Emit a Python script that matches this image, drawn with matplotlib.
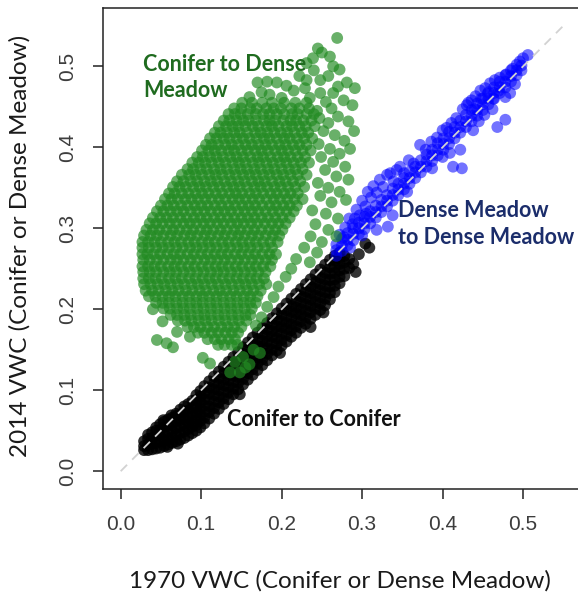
import matplotlib
matplotlib.use("Agg")
import matplotlib.pyplot as plt

# ---------------- data ----------------
TICKS = [0.0, 0.1, 0.2, 0.3, 0.4, 0.5]
TICK_LABELS = ["0.0", "0.1", "0.2", "0.3", "0.4", "0.5"]
ONE_TO_ONE = [0.0, 0.55]

# Conifer -> Conifer: dense band (x of 1970, list of 2014 values)
CONIFER_COLS = [
    (0.029, [0.026, 0.031, 0.037]),
    (0.034, [0.026, 0.033, 0.040, 0.045]),
    (0.039, [0.027, 0.034, 0.041, 0.048]),
    (0.044, [0.028, 0.035, 0.043, 0.050, 0.054]),
    (0.049, [0.029, 0.037, 0.044, 0.051, 0.058]),
    (0.054, [0.031, 0.038, 0.046, 0.054, 0.061]),
    (0.059, [0.033, 0.040, 0.048, 0.056, 0.064]),
    (0.064, [0.035, 0.042, 0.050, 0.058, 0.066]),
    (0.069, [0.037, 0.045, 0.053, 0.061, 0.068, 0.071]),
    (0.074, [0.039, 0.047, 0.055, 0.063, 0.070, 0.076]),
    (0.079, [0.041, 0.049, 0.057, 0.065, 0.073, 0.080]),
    (0.084, [0.044, 0.052, 0.060, 0.067, 0.075, 0.083]),
    (0.089, [0.047, 0.055, 0.062, 0.070, 0.078, 0.087]),
    (0.094, [0.050, 0.057, 0.065, 0.073, 0.080, 0.088, 0.094]),
    (0.099, [0.054, 0.062, 0.069, 0.077, 0.085, 0.092, 0.099]),
    (0.104, [0.059, 0.066, 0.074, 0.081, 0.089, 0.097, 0.105]),
    (0.110, [0.065, 0.073, 0.080, 0.088, 0.096, 0.103, 0.111]),
    (0.116, [0.071, 0.078, 0.086, 0.094, 0.101, 0.109, 0.117]),
    (0.122, [0.077, 0.085, 0.092, 0.100, 0.107, 0.115, 0.123]),
    (0.128, [0.083, 0.090, 0.098, 0.106, 0.113, 0.121, 0.129]),
    (0.134, [0.089, 0.097, 0.104, 0.112, 0.119, 0.127, 0.135]),
    (0.140, [0.095, 0.102, 0.110, 0.118, 0.125, 0.133, 0.141]),
    (0.146, [0.101, 0.109, 0.116, 0.124, 0.131, 0.139, 0.147]),
    (0.152, [0.107, 0.114, 0.122, 0.130, 0.137, 0.145, 0.153]),
    (0.158, [0.113, 0.121, 0.128, 0.136, 0.143, 0.151, 0.159]),
    (0.164, [0.119, 0.126, 0.134, 0.142, 0.149, 0.157, 0.165]),
    (0.170, [0.125, 0.133, 0.140, 0.148, 0.155, 0.163, 0.171]),
    (0.176, [0.131, 0.138, 0.146, 0.154, 0.161, 0.169, 0.177]),
    (0.182, [0.137, 0.145, 0.152, 0.160, 0.167, 0.175, 0.183]),
    (0.188, [0.143, 0.150, 0.158, 0.166, 0.173, 0.181, 0.189]),
    (0.194, [0.149, 0.157, 0.164, 0.172, 0.179, 0.187, 0.195]),
    (0.200, [0.155, 0.162, 0.170, 0.178, 0.185, 0.193, 0.201]),
    (0.206, [0.160, 0.168, 0.176, 0.183, 0.191, 0.199, 0.207]),
    (0.212, [0.166, 0.174, 0.181, 0.189, 0.197, 0.204, 0.213]),
    (0.218, [0.171, 0.179, 0.187, 0.195, 0.202, 0.210, 0.219]),
    (0.224, [0.177, 0.185, 0.193, 0.200, 0.208, 0.216, 0.225]),
    (0.230, [0.182, 0.190, 0.198, 0.206, 0.214, 0.222, 0.231]),
    (0.236, [0.188, 0.196, 0.204, 0.212, 0.220, 0.228, 0.237]),
    (0.242, [0.193, 0.201, 0.209, 0.217, 0.225, 0.233, 0.243]),
    (0.248, [0.199, 0.207, 0.215, 0.223, 0.231, 0.239, 0.249]),
    (0.254, [0.205, 0.213, 0.221, 0.229, 0.237, 0.245, 0.255]),
    (0.260, [0.212, 0.220, 0.228, 0.236, 0.244, 0.252, 0.261]),
    (0.266, [0.221, 0.229, 0.237, 0.245, 0.252, 0.260, 0.266]),
    (0.272, [0.232, 0.240, 0.248, 0.256, 0.263, 0.270]),
    (0.278, [0.241, 0.250, 0.258, 0.266]),
    (0.284, [0.251, 0.262]),
]
CONIFER_EXTRA = [(0.289, 0.256), (0.296, 0.268), (0.304, 0.281), (0.309, 0.276),
                 (0.292, 0.246), (0.236, 0.178), (0.252, 0.196), (0.198, 0.146),
                 (0.148, 0.095), (0.063, 0.069), (0.053, 0.063), (0.058, 0.030),
                 (0.071, 0.034)]

# Dense Meadow -> Dense Meadow: core band along 1:1 plus scatter
MEADOW_COLS = [
    (0.268, [0.266, 0.273, 0.280]), (0.275, [0.272, 0.279, 0.287]),
    (0.282, [0.279, 0.286, 0.294]), (0.289, [0.285, 0.293, 0.300]),
    (0.296, [0.293, 0.300, 0.307]), (0.303, [0.299, 0.306, 0.314]),
    (0.310, [0.306, 0.314, 0.321]), (0.317, [0.313, 0.320, 0.328]),
    (0.324, [0.320, 0.327, 0.335]), (0.331, [0.327, 0.334, 0.341]),
    (0.338, [0.334, 0.341, 0.349]), (0.345, [0.341, 0.348, 0.355]),
    (0.352, [0.348, 0.355, 0.362]), (0.359, [0.355, 0.362, 0.370]),
    (0.366, [0.362, 0.369, 0.376]), (0.373, [0.369, 0.376, 0.384]),
    (0.380, [0.376, 0.383, 0.391]), (0.387, [0.383, 0.390, 0.397]),
    (0.394, [0.390, 0.397, 0.405]), (0.401, [0.397, 0.404, 0.411]),
    (0.408, [0.404, 0.411, 0.419]), (0.415, [0.411, 0.418, 0.425]),
    (0.422, [0.418, 0.425, 0.433]), (0.429, [0.425, 0.432, 0.440]),
    (0.436, [0.432, 0.439, 0.446]), (0.443, [0.439, 0.446, 0.454]),
    (0.450, [0.446, 0.453, 0.460]), (0.457, [0.453, 0.460, 0.468]),
    (0.464, [0.460, 0.467, 0.474]), (0.471, [0.467, 0.474, 0.481]),
    (0.478, [0.474, 0.481, 0.489]), (0.485, [0.481, 0.488, 0.495]),
    (0.492, [0.489, 0.495, 0.502]), (0.498, [0.495, 0.501]),
]
MEADOW_EXTRA = [
    (0.272, 0.292), (0.279, 0.301), (0.284, 0.312), (0.288, 0.305), (0.293, 0.323),
    (0.297, 0.316), (0.300, 0.334), (0.304, 0.327), (0.307, 0.345), (0.311, 0.338),
    (0.314, 0.352), (0.318, 0.344), (0.322, 0.360), (0.326, 0.351), (0.331, 0.366),
    (0.335, 0.368), (0.339, 0.358), (0.343, 0.372), (0.347, 0.376), (0.352, 0.368),
    (0.358, 0.384), (0.364, 0.380), (0.372, 0.403), (0.379, 0.397), (0.386, 0.407),
    (0.393, 0.412), (0.400, 0.421), (0.405, 0.424), (0.411, 0.430), (0.417, 0.436),
    (0.425, 0.447), (0.430, 0.452), (0.436, 0.458), (0.441, 0.463), (0.447, 0.470),
    (0.453, 0.473), (0.459, 0.479), (0.465, 0.483), (0.471, 0.486), (0.479, 0.490),
    (0.487, 0.497), (0.496, 0.506), (0.506, 0.514), (0.500, 0.510),
    (0.318, 0.298), (0.332, 0.302), (0.338, 0.316), (0.356, 0.345), (0.387, 0.374),
    (0.400, 0.388), (0.409, 0.393), (0.413, 0.376), (0.424, 0.374), (0.422, 0.397),
    (0.438, 0.421), (0.445, 0.432), (0.452, 0.440), (0.462, 0.447), (0.468, 0.425),
    (0.478, 0.434), (0.484, 0.467), (0.478, 0.462), (0.490, 0.478), (0.432, 0.455),
    (0.440, 0.447), (0.448, 0.460), (0.456, 0.466), (0.463, 0.460), (0.470, 0.470),
    (0.285, 0.276), (0.300, 0.291), (0.277, 0.289), (0.291, 0.312), (0.305, 0.318),
]

# Conifer -> Dense Meadow: cloud (2014 value, list of 1970 values)
CONV_ROWS = [
    (0.455, [0.151, 0.163, 0.176, 0.188, 0.203, 0.217, 0.231]),
    (0.448, [0.141, 0.150, 0.161, 0.169, 0.181, 0.190, 0.199, 0.212, 0.222, 0.234]),
    (0.441, [0.134, 0.142, 0.149, 0.158, 0.168, 0.177, 0.185, 0.194, 0.203, 0.213, 0.220, 0.231, 0.240]),
    (0.433, [0.128, 0.135, 0.144, 0.152, 0.159, 0.168, 0.178, 0.185, 0.192, 0.202, 0.211, 0.218, 0.227, 0.237]),
    (0.426, [0.122, 0.131, 0.139, 0.146, 0.155, 0.164, 0.171, 0.181, 0.188, 0.196, 0.206, 0.213, 0.222, 0.230, 0.241]),
    (0.418, [0.117, 0.124, 0.132, 0.141, 0.148, 0.157, 0.167, 0.174, 0.182, 0.191, 0.199, 0.207, 0.216, 0.225, 0.233]),
    (0.411, [0.111, 0.119, 0.128, 0.135, 0.144, 0.152, 0.160, 0.169, 0.178, 0.185, 0.194, 0.203, 0.210, 0.219, 0.228, 0.238]),
    (0.403, [0.106, 0.113, 0.121, 0.130, 0.138, 0.146, 0.155, 0.163, 0.171, 0.180, 0.188, 0.197, 0.205, 0.214, 0.222, 0.231]),
    (0.396, [0.101, 0.109, 0.117, 0.125, 0.134, 0.141, 0.150, 0.158, 0.167, 0.175, 0.183, 0.192, 0.200, 0.208, 0.217, 0.226, 0.236]),
    (0.388, [0.095, 0.102, 0.111, 0.119, 0.127, 0.136, 0.144, 0.152, 0.161, 0.170, 0.177, 0.186, 0.195, 0.203, 0.211, 0.220, 0.229]),
    (0.381, [0.089, 0.097, 0.105, 0.113, 0.122, 0.130, 0.139, 0.147, 0.155, 0.164, 0.172, 0.181, 0.189, 0.198, 0.206, 0.215, 0.224, 0.234]),
    (0.373, [0.083, 0.090, 0.099, 0.107, 0.116, 0.124, 0.132, 0.141, 0.149, 0.157, 0.166, 0.174, 0.183, 0.191, 0.200, 0.209, 0.217, 0.226]),
    (0.366, [0.076, 0.085, 0.093, 0.101, 0.110, 0.118, 0.126, 0.135, 0.143, 0.152, 0.160, 0.168, 0.177, 0.185, 0.194, 0.202, 0.211, 0.220, 0.231]),
    (0.358, [0.070, 0.078, 0.087, 0.095, 0.104, 0.112, 0.120, 0.129, 0.137, 0.146, 0.154, 0.163, 0.171, 0.179, 0.188, 0.197, 0.205, 0.214, 0.223]),
    (0.351, [0.065, 0.073, 0.081, 0.090, 0.098, 0.106, 0.115, 0.123, 0.132, 0.140, 0.148, 0.157, 0.166, 0.174, 0.182, 0.191, 0.199, 0.208, 0.217, 0.228]),
    (0.343, [0.060, 0.067, 0.076, 0.084, 0.093, 0.101, 0.109, 0.118, 0.126, 0.135, 0.143, 0.151, 0.160, 0.168, 0.177, 0.186, 0.194, 0.203, 0.211, 0.220]),
    (0.336, [0.055, 0.063, 0.071, 0.080, 0.088, 0.096, 0.105, 0.113, 0.122, 0.130, 0.139, 0.147, 0.155, 0.164, 0.172, 0.181, 0.190, 0.198, 0.207, 0.216, 0.226]),
    (0.328, [0.050, 0.058, 0.066, 0.075, 0.083, 0.092, 0.100, 0.108, 0.117, 0.125, 0.134, 0.142, 0.151, 0.159, 0.167, 0.176, 0.185, 0.193, 0.202, 0.210, 0.219]),
    (0.321, [0.045, 0.053, 0.062, 0.070, 0.078, 0.087, 0.095, 0.104, 0.112, 0.121, 0.129, 0.137, 0.146, 0.154, 0.163, 0.171, 0.180, 0.189, 0.197, 0.206, 0.215]),
    (0.313, [0.040, 0.049, 0.057, 0.065, 0.074, 0.082, 0.091, 0.099, 0.107, 0.116, 0.124, 0.133, 0.141, 0.150, 0.158, 0.166, 0.175, 0.183, 0.192, 0.201, 0.210]),
    (0.306, [0.036, 0.044, 0.052, 0.061, 0.069, 0.078, 0.086, 0.094, 0.103, 0.111, 0.120, 0.128, 0.137, 0.145, 0.153, 0.162, 0.170, 0.179, 0.188, 0.196, 0.205]),
    (0.298, [0.032, 0.040, 0.048, 0.057, 0.065, 0.073, 0.082, 0.090, 0.099, 0.107, 0.115, 0.124, 0.132, 0.141, 0.149, 0.158, 0.166, 0.175, 0.184, 0.192, 0.201]),
    (0.291, [0.029, 0.037, 0.045, 0.053, 0.062, 0.070, 0.079, 0.087, 0.095, 0.104, 0.112, 0.121, 0.129, 0.138, 0.146, 0.154, 0.163, 0.171, 0.180, 0.189, 0.197]),
    (0.283, [0.027, 0.034, 0.042, 0.050, 0.059, 0.067, 0.075, 0.084, 0.092, 0.101, 0.109, 0.117, 0.126, 0.134, 0.143, 0.151, 0.160, 0.168, 0.177, 0.186, 0.195]),
    (0.276, [0.027, 0.035, 0.044, 0.052, 0.060, 0.069, 0.077, 0.086, 0.094, 0.102, 0.111, 0.119, 0.128, 0.136, 0.145, 0.153, 0.161, 0.170, 0.179, 0.188]),
    (0.268, [0.027, 0.033, 0.041, 0.049, 0.058, 0.066, 0.074, 0.083, 0.091, 0.100, 0.108, 0.117, 0.125, 0.133, 0.142, 0.150, 0.159, 0.167, 0.176, 0.185, 0.193]),
    (0.261, [0.028, 0.036, 0.045, 0.053, 0.062, 0.070, 0.078, 0.087, 0.095, 0.104, 0.112, 0.120, 0.129, 0.137, 0.146, 0.154, 0.163, 0.171, 0.180, 0.188]),
    (0.253, [0.027, 0.034, 0.042, 0.050, 0.059, 0.067, 0.075, 0.084, 0.092, 0.101, 0.109, 0.118, 0.126, 0.134, 0.143, 0.151, 0.160, 0.168, 0.177, 0.186]),
    (0.246, [0.028, 0.036, 0.044, 0.053, 0.061, 0.069, 0.078, 0.086, 0.095, 0.103, 0.112, 0.120, 0.128, 0.137, 0.145, 0.154, 0.162, 0.171, 0.180]),
    (0.238, [0.028, 0.035, 0.043, 0.051, 0.060, 0.068, 0.076, 0.085, 0.093, 0.102, 0.110, 0.118, 0.127, 0.135, 0.144, 0.152, 0.161, 0.169, 0.178]),
    (0.231, [0.029, 0.037, 0.046, 0.054, 0.062, 0.071, 0.079, 0.088, 0.096, 0.104, 0.113, 0.121, 0.130, 0.138, 0.147, 0.155, 0.163, 0.172, 0.181]),
    (0.223, [0.031, 0.039, 0.047, 0.056, 0.064, 0.072, 0.081, 0.089, 0.098, 0.106, 0.115, 0.123, 0.131, 0.140, 0.148, 0.157, 0.165, 0.174]),
    (0.216, [0.035, 0.043, 0.052, 0.060, 0.068, 0.077, 0.085, 0.094, 0.102, 0.110, 0.119, 0.127, 0.136, 0.144, 0.153, 0.161, 0.170]),
    (0.208, [0.044, 0.052, 0.060, 0.069, 0.077, 0.086, 0.094, 0.102, 0.111, 0.119, 0.128, 0.136, 0.145, 0.153, 0.161, 0.168]),
    (0.201, [0.053, 0.061, 0.070, 0.078, 0.086, 0.095, 0.103, 0.112, 0.120, 0.129, 0.137, 0.145, 0.154, 0.163]),
    (0.193, [0.062, 0.070, 0.079, 0.087, 0.096, 0.104, 0.112, 0.121, 0.129, 0.138, 0.146, 0.155, 0.161]),
    (0.186, [0.071, 0.080, 0.088, 0.097, 0.105, 0.113, 0.122, 0.130, 0.139, 0.147, 0.156]),
    (0.178, [0.083, 0.091, 0.099, 0.108, 0.116, 0.125, 0.133, 0.141, 0.150]),
    (0.171, [0.096, 0.104, 0.113, 0.121, 0.130, 0.138, 0.146]),
    (0.163, [0.108, 0.117, 0.125, 0.134, 0.142]),
    (0.156, [0.121, 0.129, 0.138, 0.145]),
]
CONV_EXTRA = [
    (0.269, 0.535), (0.250, 0.517), (0.239, 0.510), (0.260, 0.512), (0.231, 0.504),
    (0.264, 0.500), (0.272, 0.496), (0.245, 0.522), (0.170, 0.480), (0.182, 0.481),
    (0.194, 0.480), (0.185, 0.465), (0.200, 0.461), (0.231, 0.483), (0.248, 0.483),
    (0.229, 0.473), (0.281, 0.480), (0.291, 0.473), (0.264, 0.467), (0.235, 0.461),
    (0.248, 0.467), (0.270, 0.475), (0.258, 0.488), (0.215, 0.470), (0.222, 0.488),
    (0.206, 0.476), (0.240, 0.495), (0.255, 0.456), (0.277, 0.458), (0.288, 0.452),
    (0.175, 0.468), (0.160, 0.462), (0.244, 0.445), (0.262, 0.448),
    (0.247, 0.436), (0.258, 0.430), (0.270, 0.438), (0.283, 0.432), (0.290, 0.420),
    (0.252, 0.420), (0.266, 0.415), (0.278, 0.408), (0.246, 0.404), (0.260, 0.398),
    (0.272, 0.392), (0.285, 0.398), (0.249, 0.388), (0.264, 0.382), (0.279, 0.376),
    (0.254, 0.372), (0.268, 0.364), (0.283, 0.360), (0.245, 0.356), (0.258, 0.350),
    (0.272, 0.345), (0.280, 0.335), (0.248, 0.340), (0.262, 0.332), (0.238, 0.322),
    (0.255, 0.318), (0.270, 0.312), (0.242, 0.305), (0.258, 0.298), (0.268, 0.290),
    (0.236, 0.290), (0.250, 0.283), (0.228, 0.276), (0.244, 0.270), (0.218, 0.262),
    (0.235, 0.258), (0.212, 0.250), (0.205, 0.240), (0.196, 0.228), (0.190, 0.215),
    (0.182, 0.203), (0.175, 0.190), (0.168, 0.180),
    (0.045, 0.162), (0.057, 0.158), (0.065, 0.153), (0.086, 0.166), (0.102, 0.140),
    (0.111, 0.133), (0.136, 0.122), (0.148, 0.122), (0.173, 0.146), (0.152, 0.141),
    (0.160, 0.132), (0.165, 0.150), (0.142, 0.135), (0.070, 0.172), (0.052, 0.185),
    (0.040, 0.200), (0.155, 0.128),
]

# ---------------- assemble ----------------
def from_cols(cols, extra):
    xs, ys = [], []
    for x, yl in cols:
        xs += [x] * len(yl)
        ys += yl
    for x, y in extra:
        xs.append(x); ys.append(y)
    return xs, ys

def from_rows(rows, extra):
    xs, ys = [], []
    for y, xl in rows:
        xs += xl
        ys += [y] * len(xl)
    for x, y in extra:
        xs.append(x); ys.append(y)
    return xs, ys

cx, cy = from_cols(CONIFER_COLS, CONIFER_EXTRA)
mx, my = from_cols(MEADOW_COLS, MEADOW_EXTRA)
gx, gy = from_rows(CONV_ROWS, CONV_EXTRA)

W, H = 578, 594
fig = plt.figure(figsize=(W / 100, H / 100), dpi=100)
ax = fig.add_axes([103 / W, 105 / H, 478 / W, 481 / H])
ax.set_xlim(-0.022, 0.572)
ax.set_ylim(-0.022, 0.572)

S = 72
ax.scatter(cx, cy, s=S, c="black", alpha=0.8, edgecolors="none", zorder=2)
ax.scatter(mx, my, s=S, c="#0000ff", alpha=0.55, edgecolors="none", zorder=3)
ax.scatter(gx, gy, s=S, c="#228b22", alpha=0.68, edgecolors="none", zorder=4)
ax.plot(ONE_TO_ONE, ONE_TO_ONE, color="#d2d2d2", lw=1.3, dashes=(5, 4), zorder=5)

for sp in ax.spines.values():
    sp.set_color("#222222")
    sp.set_linewidth(1.1)

ax.set_xticks(TICKS)
ax.set_xticklabels(TICK_LABELS)
ax.set_yticks(TICKS)
ax.set_yticklabels(TICK_LABELS)
ax.tick_params(direction="out", length=7.5, width=1.1, color="#222222",
               labelcolor="#3d3d3d", labelsize=15, pad=11)
for lab in ax.get_xticklabels() + ax.get_yticklabels():
    lab.set_family("Liberation Sans")
for lab in ax.get_yticklabels():
    lab.set_rotation(90)
    lab.set_va("center")

def fx(px):
    return px / W

def fy(py):
    return 1 - py / H

bold = dict(family="Lato", weight="bold", fontsize=15.5, va="baseline", ha="left")
fig.text(fx(143), fy(70.7), "Conifer to Dense", color="#1f6b1f", **bold)
fig.text(fx(143), fy(96.7), "Meadow", color="#1f6b1f", **bold)
fig.text(fx(398), fy(216.7), "Dense Meadow", color="#1b2d6b", **bold)
fig.text(fx(398), fy(244), "to Dense Meadow", color="#1b2d6b", **bold)
fig.text(fx(227), fy(425.7), "Conifer to Conifer", color="#111111", **bold)

fig.text(fx(339.5), fy(588), "1970 VWC (Conifer or Dense Meadow)", family="Lato",
         fontsize=17.5, color="#1a1a1a", ha="center", va="baseline")
fig.text(fx(20), fy(246), "2014 VWC (Conifer or Dense Meadow)", family="Lato",
         fontsize=17.5, color="#1a1a1a", ha="center", va="center", rotation=90)

fig.savefig("out.png", dpi=100)
